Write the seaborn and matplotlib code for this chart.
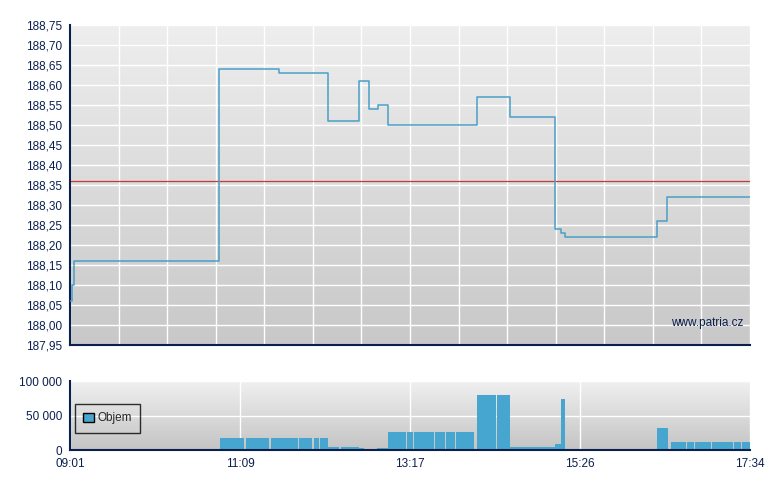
import numpy as np
import pandas as pd
import matplotlib
matplotlib.use('Agg')
import matplotlib.pyplot as plt
import seaborn as sns
from matplotlib.colors import LinearSegmentedColormap
from matplotlib.patches import Patch

# price steps: minutes after 09:01 and last price
price_min = [0, 1.3, 3.0, 112.6, 157.7, 194.4, 218.0, 225.3, 232.4, 239.9,
             306.8, 331.9, 365.7, 370.6, 373.2, 442.6, 450.6, 513]
price_val = [188.06, 188.10, 188.16, 188.64, 188.63, 188.51, 188.61, 188.54, 188.55, 188.50,
             188.57, 188.52, 188.24, 188.23, 188.22, 188.26, 188.32, 188.32]
prev_close = 188.36

# volume bars: start / end minute and volume
vol_start = [113.2, 132.4, 151.3, 172.9, 183.7, 188.6,
             194.6, 204.4, 218.0, 221.8, 223.3, 231.8,
             239.9, 246.2, 254.0, 259.3, 267.4, 275.1, 279.3, 283.4, 291.2,
             306.8, 321.9, 331.9, 365.9, 370.6,
             442.8, 453.2, 465.5, 471.5, 484.3, 498.9, 500.7, 506.7]
vol_end = [131.6, 150.5, 172.2, 182.9, 187.8, 194.6,
           202.6, 217.7, 221.8, 223.3, 227.8, 239.9,
           245.6, 253.5, 258.8, 266.8, 274.6, 278.9, 282.9, 290.6, 305.0,
           321.4, 331.9, 365.9, 370.6, 373.2,
           450.9, 464.7, 471.0, 483.8, 498.4, 500.2, 506.2, 513.0]
vol_val = [17400, 17400, 17400, 17400, 17400, 17400,
           4800, 4800, 2900, 2000, 1000, 2900,
           26000, 26000, 26000, 26000, 26000, 26000, 26000, 26000, 26000,
           80000, 80000, 4800, 9100, 74000,
           32000, 11600, 11600, 11600, 11600, 11600, 11600, 11600]

time_labels = ['09:01', '11:09', '13:17', '15:26', '17:34']
vol_ticks = [0, 50000, 100000]
vol_tick_labels = ['0', '50 000', '100 000']

navy = '#0b1f4f'
blue = '#46a6cf'
line_blue = '#4a9fc8'

sns.set_style('white')
plt.rcParams['font.family'] = ['Liberation Sans', 'DejaVu Sans']
plt.rcParams['font.size'] = 8.5


def gradient(ax, top, bottom):
    g = np.linspace(0, 1, 256).reshape(-1, 1)
    cmap = LinearSegmentedColormap.from_list('bg', [top, bottom])
    ax.imshow(g, cmap=cmap, aspect='auto', extent=[0, 1, 0, 1],
              transform=ax.transAxes, zorder=0)


def style_axes(ax):
    for s in ['top', 'right']:
        ax.spines[s].set_visible(False)
    for s in ['left', 'bottom']:
        ax.spines[s].set_color(navy)
        ax.spines[s].set_linewidth(1.5)
    ax.tick_params(direction='out', length=3.5, width=1, color=navy,
                   labelcolor=navy, pad=2)
    ax.grid(True, color='white', linewidth=1)
    ax.set_axisbelow(True)


fig = plt.figure(figsize=(7.8, 4.9), dpi=100)
ax1 = fig.add_axes([70 / 780, 1 - 345 / 490, 680 / 780, 320 / 490])
ax2 = fig.add_axes([70 / 780, 1 - 450 / 490, 680 / 780, 69 / 490])

# price chart
gradient(ax1, '#eeeeee', '#c8c8c8')
df = pd.DataFrame({'t': price_min, 'price': price_val})
ax1.axhline(prev_close, color='#c43a3a', linewidth=0.9, zorder=2)
sns.lineplot(data=df, x='t', y='price', ax=ax1, color=line_blue,
             linewidth=1.1, drawstyle='steps-post', zorder=3)
style_axes(ax1)
yt = np.linspace(187.95, 188.75, 17)
ax1.set_yticks(yt)
ax1.set_yticklabels([f'{v:.2f}'.replace('.', ',') for v in yt])
ax1.set_xticks(np.linspace(0, 513, 15))
ax1.set_xticklabels([])
ax1.set_xlim(0, 513)
ax1.set_ylim(187.95, 188.75)
ax1.set_xlabel('')
ax1.set_ylabel('')
ax1.text(0.99, 0.07, 'www.patria.cz', transform=ax1.transAxes, ha='right',
         va='center', color=navy, fontsize=8.5, zorder=4)

# volume chart
gradient(ax2, '#f0f0f0', '#c4c4c4')
edges = sorted(set(vol_start + vol_end))
sns.histplot(x=vol_start, weights=vol_val, bins=edges, ax=ax2, color=blue,
             alpha=1, linewidth=0, zorder=2)
style_axes(ax2)
ax2.set_xticks(np.linspace(0, 513, 5))
ax2.set_xticklabels(time_labels)
ax2.set_yticks(vol_ticks)
ax2.set_yticklabels(vol_tick_labels)
ax2.set_xlim(0, 513)
ax2.set_ylim(0, 100000)
ax2.set_xlabel('')
ax2.set_ylabel('')
ax2.legend(handles=[Patch(facecolor=blue, edgecolor='black', label='Objem')],
           loc='lower left', bbox_to_anchor=(0.007, 0.25), borderaxespad=0,
           fancybox=False, edgecolor='black', facecolor='none',
           handlelength=0.9, handleheight=0.9, handletextpad=0.3,
           borderpad=0.7, fontsize=8.5)

fig.savefig('out.png', dpi=100)
